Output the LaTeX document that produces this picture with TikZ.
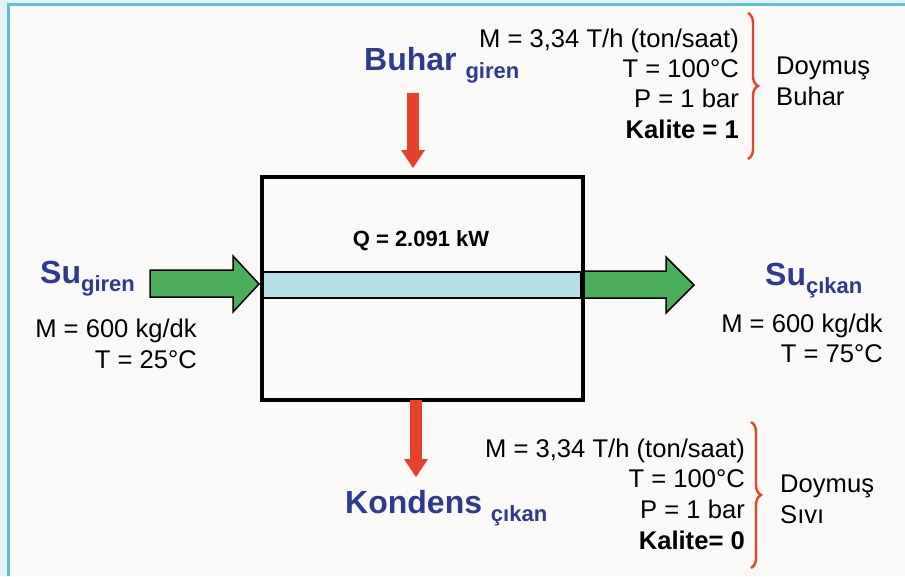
\documentclass[tikz,border=0pt]{standalone}
\usepackage{fontspec}
\setmainfont{Liberation Sans}
\usepackage{xcolor}
\usepackage{tikz}
\usetikzlibrary{arrows.meta, positioning, decorations.pathreplacing}

\definecolor{titleblue}{HTML}{2E3A8E}
\definecolor{flowred}{HTML}{E8412B}
\definecolor{flowgreen}{HTML}{4AAE5B}
\definecolor{tubeblue}{HTML}{B4E0E6}
\definecolor{framecyan}{HTML}{5BC2D2}
\definecolor{outerbg}{HTML}{E6F3F6}
\definecolor{innerbg}{HTML}{FAF9F7}

\newcommand{\subtxt}[1]{\raisebox{-8pt}{\fontsize{22}{26}\selectfont #1}}

\begin{document}
\begin{tikzpicture}[x=1pt, y=-1pt,
  streamlabel/.style={font=\fontsize{32}{38}\selectfont\bfseries, text=titleblue, inner sep=0pt, anchor=base west},
  datatext/.style={font=\fontsize{25.6}{30}\selectfont, inner sep=0pt},
  greenarrow/.style={fill=flowgreen, draw=black, line width=1.5pt, line join=miter},
  redarrow/.style={draw=flowred, line width=12pt, -{Triangle[length=18pt, width=24pt, line width=0pt]}},
  redbrace/.style={draw=flowred, line width=2.4pt, decorate, decoration={brace, amplitude=10pt}}
]
\useasboundingbox (0,0) rectangle (905,576);

% --- Frame ---
\fill[outerbg] (0,0) rectangle (905,576);
\fill[innerbg] (8.5,4) rectangle (905,576);
\draw[framecyan, line width=3pt] (8.5,576) -- (8.5,4) -- (905,4);

% --- Tube and water flow ---
\draw[fill=tubeblue, line width=1.5pt] (263,272) rectangle (581,298);
\draw[greenarrow] (150,270) -- (233,270) -- (233,256) -- (259,284) -- (233,312) -- (233,297) -- (150,297) -- cycle;
\draw[greenarrow] (583,271) -- (666,271) -- (666,257) -- (694,285) -- (666,313) -- (666,298) -- (583,298) -- cycle;

% --- Heat exchanger ---
\node[draw, line width=4pt, minimum width=321.5pt, minimum height=223.5pt, inner sep=0pt] (hx) at (422.25,288.25) {};
\node[font=\fontsize{22}{26}\selectfont\bfseries, inner sep=0pt, anchor=base] (duty) at (421,246) {Q = 2.091 kW};

% --- Steam in / condensate out ---
\coordinate (steamtop) at (413,93);
\coordinate (steamend) at (413,168);
\coordinate (condtop) at (416,400);
\coordinate (condend) at (416,477);
\draw[redarrow] (steamtop) -- (steamend);
\draw[redarrow] (condtop) -- (condend);

% --- Stream labels ---
\node[streamlabel] (buhar) at (364,70) {Buhar \subtxt{giren}};
\node[streamlabel] (kondens) at (345,513) {Kondens \subtxt{çıkan}};
\node[streamlabel] (suin) at (40,283) {Su\subtxt{giren}};
\node[streamlabel] (suout) at (765,285) {Su\subtxt{çıkan}};

% --- Water data ---
\node[datatext, anchor=base east] (suinm) at (197,337) {M = 600 kg/dk};
\node[datatext, anchor=base east] (suint) at (197,368) {T = 25°C};
\node[datatext, anchor=base east] (suoutm) at (883,332) {M = 600 kg/dk};
\node[datatext, anchor=base east] (suoutt) at (883,362) {T = 75°C};

% --- Steam data ---
\node[datatext, anchor=base east] (bm) at (739,47) {M = 3,34 T/h (ton/saat)};
\node[datatext, anchor=base east] (bt) at (739,77) {T = 100°C};
\node[datatext, anchor=base east] (bp) at (739,107) {P = 1 bar};
\node[datatext, anchor=base east, font=\fontsize{25.6}{30}\selectfont\bfseries] (bx) at (739,138) {Kalite = 1};
\draw[redbrace] (748,13) -- (748,159);
\node[datatext, anchor=base west] (bstate1) at (776,74) {Doymuş};
\node[datatext, anchor=base west] (bstate2) at (776,105) {Buhar};

% --- Condensate data ---
\node[datatext, anchor=base east] (km) at (745,457) {M = 3,34 T/h (ton/saat)};
\node[datatext, anchor=base east] (kt) at (745,487) {T = 100°C};
\node[datatext, anchor=base east] (kp) at (745,518) {P = 1 bar};
\node[datatext, anchor=base east, font=\fontsize{25.6}{30}\selectfont\bfseries] (kx) at (745,549) {Kalite= 0};
\draw[redbrace] (751,422) -- (751,568);
\node[datatext, anchor=base west] (kstate1) at (780,492) {Doymuş};
\node[datatext, anchor=base west] (kstate2) at (780,523) {Sıvı};

\end{tikzpicture}
\end{document}
